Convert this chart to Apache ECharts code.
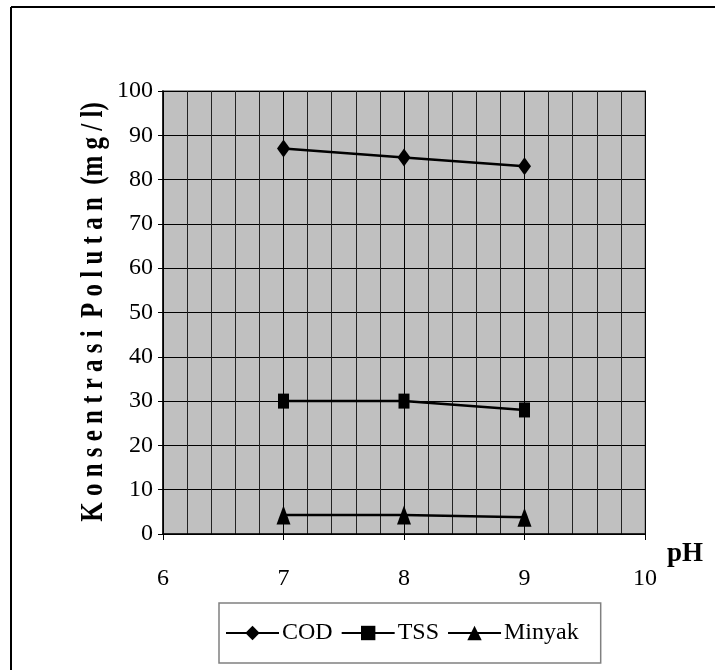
<!DOCTYPE html>
<html>
<head>
<meta charset="utf-8">
<script src="https://cdn.jsdelivr.net/npm/echarts@6/dist/echarts.min.js"></script>
<style>
  html, body { margin: 0; padding: 0; background: #fff; }
  #chart { width: 715px; height: 670px; }
</style>
</head>
<body>
<div id="chart"></div>
<script>
// pH values tested
const phValues = [7, 8, 9];
// pollutant concentration (mg/l) at each pH
const codValues = [87, 85, 83];
const tssValues = [30, 30, 28];
const minyakValues = [4.3, 4.3, 3.8];
const seriesNames = ['COD', 'TSS', 'Minyak'];
const yTitle = 'K o n s e n t r a s i  P o l u t a n  (m g / l)';
const xTitle = 'pH';

const serif = 'Liberation Serif, Times New Roman, serif';

function pairs(ys) {
  return phValues.map((x, i) => [x, ys[i]]);
}

function lineSeries(name, ys, symbol, size) {
  return {
    name: name,
    type: 'line',
    data: pairs(ys),
    symbol: symbol,
    symbolSize: size,
    showSymbol: true,
    lineStyle: { color: '#000', width: 2.5 },
    itemStyle: { color: '#000', borderWidth: 0 },
    emphasis: { disabled: true },
    animation: false
  };
}

const chart = echarts.init(document.getElementById('chart'), null, { renderer: 'canvas' });

chart.setOption({
  backgroundColor: '#fff',
  animation: false,
  grid: {
    left: 163, top: 91, right: 70, bottom: 136,
    show: true,
    backgroundColor: '#c0c0c0',
    borderColor: '#999',
    borderWidth: 2
  },
  xAxis: {
    type: 'value',
    min: 6, max: 10, interval: 1,
    axisLine: { show: true, onZero: false, lineStyle: { color: '#000', width: 1.5 } },
    axisTick: { show: true, inside: false, length: 6, lineStyle: { color: '#000', width: 1 } },
    axisLabel: { color: '#000', fontFamily: serif, fontSize: 24, margin: 33 },
    splitLine: { show: true, lineStyle: { color: '#000', width: 1 } },
    minorTick: { show: false, splitNumber: 5 },
    minorSplitLine: { show: true, lineStyle: { color: '#222', width: 1 } }
  },
  yAxis: {
    type: 'value',
    min: 0, max: 100, interval: 10,
    axisLine: { show: true, lineStyle: { color: '#000', width: 1.5 } },
    axisTick: { show: true, inside: false, length: 5, lineStyle: { color: '#000', width: 1 } },
    axisLabel: { color: '#000', fontFamily: serif, fontSize: 24, margin: 10 },
    splitLine: { show: true, lineStyle: { color: '#000', width: 1 } }
  },
  legend: {
    data: seriesNames,
    left: 219, top: 603,
    orient: 'horizontal',
    itemWidth: 53, itemHeight: 18, itemGap: 8,
    padding: [18, 22, 18, 6],
    borderColor: '#808080', borderWidth: 1.5,
    backgroundColor: '#fff',
    textStyle: { color: '#000', fontFamily: serif, fontSize: 24, padding: [0, 0, 0, -2] },
    selectedMode: false
  },
  graphic: [
    { type: 'line', shape: { x1: 11, y1: 7, x2: 715, y2: 7 }, style: { stroke: '#000', lineWidth: 2 }, silent: true },
    { type: 'line', shape: { x1: 11, y1: 7, x2: 11, y2: 670 }, style: { stroke: '#000', lineWidth: 2 }, silent: true },
    // vertical axis title, drawn bottom-to-top with narrowed glyphs
    {
      type: 'text', x: 94, y: 312, rotation: Math.PI / 2, scaleX: 0.78,
      style: { text: yTitle, fill: '#000', font: 'bold 32px ' + serif, align: 'center', verticalAlign: 'middle' },
      silent: true
    },
    { type: 'text', left: 667, top: 541, style: { text: xTitle, fill: '#000', font: 'bold 27px ' + serif }, silent: true }
  ],
  series: [
    lineSeries('COD', codValues, 'diamond', [13, 18]),
    lineSeries('TSS', tssValues, 'rect', [11, 15]),
    lineSeries('Minyak', minyakValues, 'triangle', [14, 19])
  ]
});
</script>
</body>
</html>
